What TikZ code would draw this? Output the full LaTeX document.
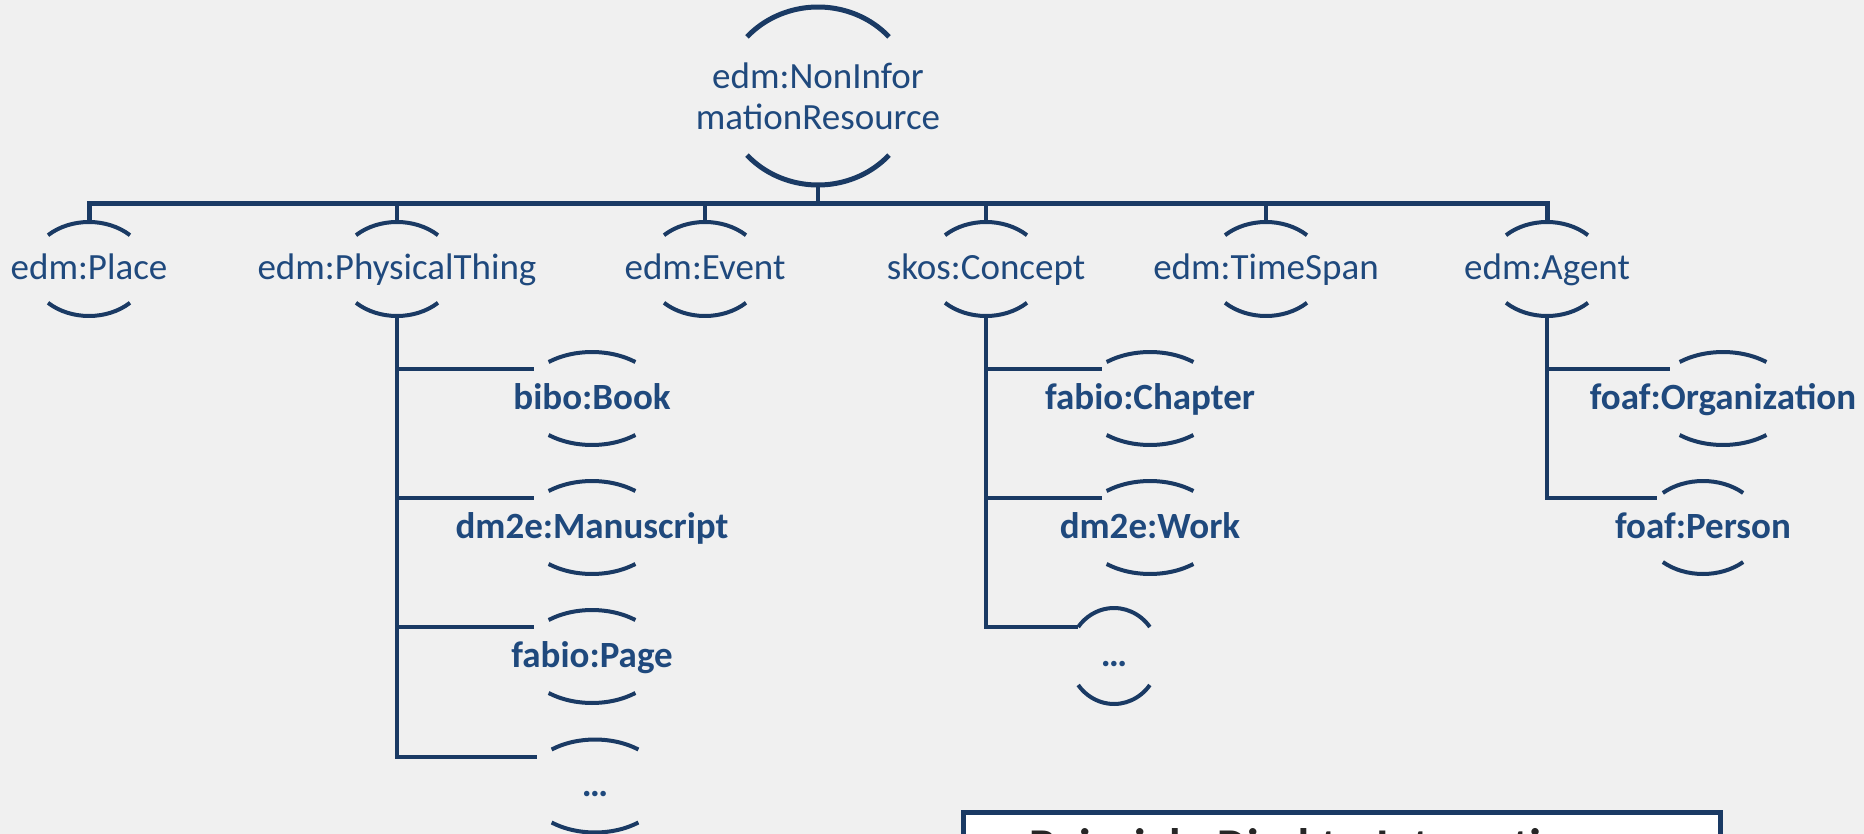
\documentclass[tikz,border=0pt]{standalone}
\usepackage{fontspec}
\setmainfont{Carlito}
\usetikzlibrary{calc}
\definecolor{lnc}{HTML}{1A3A64}
\definecolor{txc}{HTML}{1F497D}
\definecolor{bgc}{HTML}{F0F0F0}
\definecolor{boxtx}{HTML}{262626}
\newcommand\drawlens[5][lnthin]{% node, rx, ry, t
  \draw[#1] (#2.center) ++(#5:#3 and #4) arc[start angle=#5, end angle={180-#5}, x radius=#3, y radius=#4];
  \draw[#1] (#2.center) ++(-#5:#3 and #4) arc[start angle=-#5, end angle={-180+#5}, x radius=#3, y radius=#4];
}
\tikzset{
  lnthin/.style={draw=lnc, line width=2pt},
  lnthick/.style={draw=lnc, line width=2.5pt},
  lblbase/.style={inner sep=0pt, text=txc, font=\fontsize{18.5}{20.5}\selectfont},
  lbl/.style={lblbase, text height=15.5pt, text depth=4.6pt},
  lblb/.style={lbl, font=\fontsize{18.5}{20.5}\selectfont\bfseries},
  rootnode/.style={lblbase, align=center, minimum height=89pt},
  lone/.style={lbl, minimum height=47pt},
  ltwo/.style={lblb, minimum height=46.5pt},
  ldots/.style={lblb, minimum height=48pt},
  infobox/.style={draw=lnc, line width=2.5pt, fill=white, anchor=north west,
    inner xsep=33pt, inner ysep=9.5pt, text width=312.5pt, align=left,
    text height=15pt, text depth=5pt, text=boxtx,
    font=\fontsize{23.5}{26}\selectfont\bfseries}
}
\begin{document}
\begin{tikzpicture}[x=0.5pt, y=0.5pt]
\fill[bgc] (0,0) rectangle (1864,-834);
\useasboundingbox (0,0) rectangle (1864,-834);

% root
\node[rootnode] (root) at (818,-96) {edm:NonInfor\\mationResource};
\drawlens[lnthick]{root}{95}{89}{41.6}

% level 1
\node[lone] (place)   at (89,-269)   {edm:Place};
\node[lone] (phys)    at (397,-269)  {edm:PhysicalThing};
\node[lone] (event)   at (705,-269)  {edm:Event};
\node[lone] (concept) at (986,-269)  {skos:Concept};
\node[lone] (tspan)   at (1266,-269) {edm:TimeSpan};
\node[lone] (agent)   at (1547,-269) {edm:Agent};
\foreach \n in {place,phys,event,concept,tspan,agent}{\drawlens{\n}{59}{47}{46}}

% bus
\coordinate (busy) at (0,-204);
\draw[lnthick] (place.north) -- (place.north |- busy) -- (agent.north |- busy) -- (agent.north);
\foreach \n in {phys,event,concept,tspan}{\draw[lnthin] (\n.north) -- (\n.north |- busy);}
\draw[lnthin] (root.south) -- (root.south |- busy);

% level 2 under PhysicalThing
\node[ltwo] (book)  at (592,-398.5) {bibo:Book};
\node[ltwo] (manu)  at (592,-527.5) {dm2e:Manuscript};
\node[ltwo] (page)  at (592,-656.5) {fabio:Page};
\node[ltwo] (pdots) at (595,-786)   {\ldots};
\foreach \n in {book,manu,page,pdots}{\drawlens{\n}{70}{46.5}{51.7}}
\draw[lnthin] (phys.south) |- ($(book.center)+(-58,29.5)$);
\draw[lnthin] (phys.south) |- ($(manu.center)+(-58,29.5)$);
\draw[lnthin] (phys.south) |- ($(page.center)+(-58,29.5)$);
\draw[lnthin] (phys.south) |- ($(pdots.center)+(-58,29)$);

% level 2 under Concept
\node[ltwo] (chapter) at (1150,-398.5) {fabio:Chapter};
\node[ltwo] (work)    at (1150,-527.5) {dm2e:Work};
\node[ldots] (cdots)  at (1114,-656)   {\ldots};
\foreach \n in {chapter,work}{\drawlens{\n}{70}{46.5}{51.7}}
\drawlens{cdots}{45}{48}{37.2}
\draw[lnthin] (concept.south) |- ($(chapter.center)+(-48,29.5)$);
\draw[lnthin] (concept.south) |- ($(work.center)+(-48,29.5)$);
\draw[lnthin] (concept.south) |- ($(cdots.center)+(-36,29)$);

% level 2 under Agent
\node[ltwo] (org)    at (1723,-398.5) {foaf:Organization};
\node[ltwo] (person) at (1703,-527.5) {foaf:Person};
\drawlens{org}{70}{46.5}{51.7}
\drawlens{person}{60}{46.5}{48}
\draw[lnthin] (agent.south) |- ($(org.center)+(-53,29.5)$);
\draw[lnthin] (agent.south) |- ($(person.center)+(-46,29.5)$);

% example box (cut by the page edge)
\node[infobox] (example) at (960.5,-809.5) {Beispiel: Direkte Integration};
\end{tikzpicture}
\end{document}
